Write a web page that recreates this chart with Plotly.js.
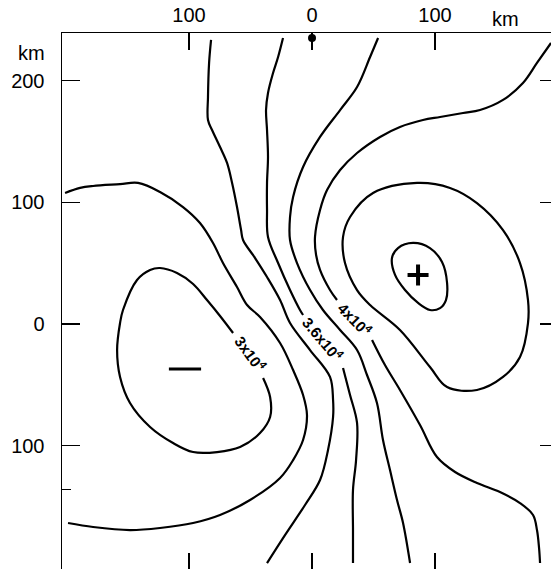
<!DOCTYPE html>
<html><head><meta charset="utf-8">
<script src="https://cdn.plot.ly/plotly-3.0.1.min.js"></script>
<style>html,body{margin:0;padding:0;background:#fff}#chart{width:551px;height:569px}</style>
</head><body><div id="chart"></div>
<script>
// ---- tick labels (km) ----
const xTickVals = [-100, 0, 100];
const xTickText = ['100', '0', '100'];
const yTickVals = [200, 100, 0, -100];
const yTickText = ['200', '100', '0', '100'];
const yMinorTickVals = [-136];

// ---- contour lines (km east, km north) ----
const lineE_x = [-200.8,-188.6,-178.0,-156.1,-141.5,-123.6,-104.9,-91.1,-80.5,-72.4,-61.0,-52.8,-42.3,-26.0,-15.4,-7.3,-4.1,-7.3,-15.4,-26.0,-50.4,-74.8,-96.7,-123.6,-148.0,-178.0,-198.4];
const lineE_y = [107.6,111.8,113.4,114.9,115.9,108.5,96.1,83.0,66.6,50.1,30.4,15.6,5.8,-15.6,-37.8,-58.3,-74.8,-95.3,-111.8,-126.5,-144.6,-156.9,-163.5,-167.6,-169.3,-166.8,-163.5];

const lineA_x = [-82.1,-83.7,-84.6,-84.6,-81.3,-74.8,-69.1,-65.0,-61.0,-57.7,-56.1,-46.3,-36.6,-26.0,-17.9,-1.6,14.6,17.1,17.1,13.0,6.5,-5.7,-22.0,-36.6];
const lineA_y = [233.4,214.5,186.5,167.6,159.4,145.4,132.3,115.9,96.1,77.2,69.0,54.2,38.6,19.7,0.8,-21.4,-43.5,-62.4,-76.4,-103.5,-128.2,-148.7,-173.4,-196.4];

const lineB_x = [-23.6,-27.6,-31.7,-35.8,-37.4,-36.6,-35.8,-36.6,-36.6,-35.8,-27.6,-17.9,-9.8,-7.3,null,25.2,30.9,36.6,35.8,33.3,33.3,33.3];
const lineB_y = [235.0,219.4,206.2,189.8,175.8,159.4,137.2,115.9,93.7,71.5,50.1,27.9,11.5,7.4,null,-36.2,-58.3,-81.3,-111.8,-136.4,-169.3,-196.4];

const lineC_x = [53.7,47.2,36.6,22.8,6.5,-7.3,-15.4,-17.9,-17.9,-12.2,-1.6,8.9,22.8,36.6,44.7,52.8,57.7,63.4,69.1,74.0,79.7];
const lineC_y = [235.0,219.4,194.7,175.8,153.7,129.0,104.4,87.9,69.0,50.1,27.9,11.5,-4.9,-21.4,-41.9,-64.9,-95.3,-120.0,-144.6,-163.5,-196.4];

const lineD_x = [194.3,182.9,171.5,155.3,136.6,122.8,104.1,90.2,71.5,55.3,36.6,22.8,12.2,6.5,2.4,3.3,6.5,14.6,20.3,null,48.8,59.3,71.5,87.8,101.6,116.3,134.1,152.8,169.1,179.7,182.9,184.6,185.4];
const lineD_y = [230.9,214.5,198.0,184.1,175.8,173.4,170.1,167.6,161.9,153.7,140.5,126.5,110.1,93.7,71.5,56.7,44.4,27.9,19.7,null,-13.1,-33.7,-54.2,-83.0,-109.3,-121.6,-130.6,-138.0,-147.1,-156.9,-169.3,-184.1,-196.4];

const bigLoop_x = [85.4,112.2,134.1,155.3,169.1,175.6,175.6,169.1,155.3,134.1,109.8,95.9,71.5,47.2,36.6,26.8,25.2,30.9,49.6,85.4];
const bigLoop_y = [115.9,111.8,99.4,77.2,50.1,19.7,0.8,-27.1,-43.5,-54.2,-51.8,-35.3,-4.9,15.6,27.9,50.1,71.5,87.9,107.6,115.9];

const smallLoop_x = [65.0,69.9,82.1,95.9,105.7,109.8,108.9,104.1,95.9,86.2,75.6,67.5,65.0];
const smallLoop_y = [54.2,62.4,66.6,62.4,50.9,33.7,19.7,13.1,11.5,17.3,27.9,40.3,54.2];

const innerLoop_x = [-39.8,-34.1,-34.1,-42.3,-58.5,-77.2,-96.7,-113.0,-131.7,-148.0,-156.1,-158.5,-156.1,-153.7,-142.3,-131.7,-123.6,-109.8,-96.7,-85.4,-74.8,-64.2];
const innerLoop_y = [-44.4,-60.0,-76.4,-89.6,-101.1,-105.2,-105.2,-97.8,-84.6,-64.9,-43.5,-21.4,0.8,11.5,36.2,44.4,46.0,41.9,32.9,19.7,6.6,-7.4];

// ---- contour labels ----
const labelText = ['3x10<sup>4</sup>', '3.6x10<sup>4</sup>', '4x10<sup>4</sup>'];
const labelX = [-50.4, 8.9, 35.0];
const labelY = [-23.8, -12.0, 4.9];

// ---- symbols ----
const stationX = [0], stationY = [235.0];
const minusX = [-103.3], minusY = [-37.0];
const plusX = [86.2], plusY = [40.3];

const xRange = [-203.3, 194.3];
const yRange = [-201.3, 239.1];

const lineStyle = {color: '#000', width: 2.2, shape: 'spline', smoothing: 1};
function contour(x, y) {
  return {type: 'scatter', mode: 'lines', x: x, y: y, line: lineStyle,
          connectgaps: false, hoverinfo: 'skip', showlegend: false, cliponaxis: true};
}

const traces = [
  contour(lineE_x, lineE_y),
  contour(lineA_x, lineA_y),
  contour(lineB_x, lineB_y),
  contour(lineC_x, lineC_y),
  contour(lineD_x, lineD_y),
  contour(bigLoop_x, bigLoop_y),
  contour(smallLoop_x, smallLoop_y),
  contour(innerLoop_x, innerLoop_y),
  {type: 'scatter', mode: 'markers', x: stationX, y: stationY, showlegend: false, hoverinfo: 'skip',
   marker: {symbol: 'circle', size: 8, color: '#000'}, cliponaxis: false},
  {type: 'scatter', mode: 'markers', x: minusX, y: minusY, showlegend: false, hoverinfo: 'skip',
   marker: {symbol: 'line-ew', size: 23, line: {color: '#000', width: 3}}},
  {type: 'scatter', mode: 'markers', x: plusX, y: plusY, showlegend: false, hoverinfo: 'skip',
   marker: {symbol: 'cross-thin', size: 15, line: {color: '#000', width: 4}}},
  {type: 'scatter', mode: 'markers', x: [null], y: [null], xaxis: 'x2', yaxis: 'y2',
   showlegend: false, hoverinfo: 'skip'}
];

const labelAngles = [54, 50, 46];
const annotations = labelText.map((t, i) => ({
  x: labelX[i], y: labelY[i], xref: 'x', yref: 'y', text: t, showarrow: false,
  textangle: labelAngles[i], xanchor: 'center', yanchor: 'middle',
  font: {family: 'Liberation Sans, Arial, sans-serif', size: 15, color: '#000', weight: 'bold'}
}));
annotations.push({x: 0.906, y: 1.026, xref: 'paper', yref: 'paper', text: 'km', showarrow: false,
  xanchor: 'center', yanchor: 'middle', font: {family: 'Liberation Sans, Arial, sans-serif', size: 20, color: '#000'}});
annotations.push({x: -0.03, y: 0.963, xref: 'paper', yref: 'paper', text: 'km', showarrow: false,
  xanchor: 'right', yanchor: 'middle', font: {family: 'Liberation Sans, Arial, sans-serif', size: 20, color: '#000'}});

const tickFont = {family: 'Liberation Sans, Arial, sans-serif', size: 20, color: '#000'};

const layout = {
  width: 551, height: 569,
  margin: {l: 62, r: 0, t: 33, b: 0, pad: 0},
  paper_bgcolor: '#fff', plot_bgcolor: '#fff',
  showlegend: false,
  xaxis: {range: xRange, side: 'top', showline: true, linecolor: '#000', linewidth: 1.5,
          ticks: 'inside', ticklen: 17, tickwidth: 1.5, tickcolor: '#000',
          tickmode: 'array', tickvals: xTickVals, ticktext: xTickText, tickfont: tickFont,
          ticklabelstandoff: 2,
          showgrid: false, zeroline: false, fixedrange: true},
  yaxis: {range: yRange, showline: true, linecolor: '#000', linewidth: 1.5,
          ticks: 'inside', ticklen: 18, tickwidth: 1.5, tickcolor: '#000',
          tickmode: 'array', tickvals: yTickVals, ticktext: yTickText, tickfont: tickFont,
          ticklabelstandoff: 12,
          minor: {tickmode: 'array', tickvals: yMinorTickVals, ticks: 'inside', ticklen: 9, tickwidth: 1.2, tickcolor: '#000', showgrid: false},
          showgrid: false, zeroline: false, fixedrange: true},
  xaxis2: {range: xRange, overlaying: 'x', side: 'bottom', anchor: 'y2', showline: false,
           ticks: 'inside', ticklen: 16, tickwidth: 1.5, tickcolor: '#000',
           tickmode: 'array', tickvals: xTickVals, showticklabels: false,
           showgrid: false, zeroline: false, fixedrange: true},
  yaxis2: {range: yRange, overlaying: 'y', side: 'right', anchor: 'x2', showline: false,
           ticks: 'inside', ticklen: 11, tickwidth: 1.5, tickcolor: '#000',
           tickmode: 'array', tickvals: yTickVals, showticklabels: false,
           showgrid: false, zeroline: false, fixedrange: true},
  annotations: annotations
};

Plotly.newPlot('chart', traces, layout, {staticPlot: true, displayModeBar: false});
</script>
</body></html>
